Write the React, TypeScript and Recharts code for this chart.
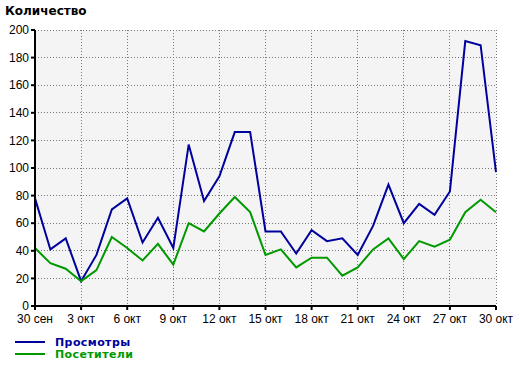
import React from "react";
import { LineChart, Line, XAxis, YAxis, CartesianGrid } from "recharts";

const days = [
  "30 сен", "1 окт", "2 окт", "3 окт", "4 окт", "5 окт", "6 окт", "7 окт", "8 окт", "9 окт",
  "10 окт", "11 окт", "12 окт", "13 окт", "14 окт", "15 окт", "16 окт", "17 окт", "18 окт", "19 окт",
  "20 окт", "21 окт", "22 окт", "23 окт", "24 окт", "25 окт", "26 окт", "27 окт", "28 окт", "29 окт", "30 окт",
];
const views = [78, 41, 49, 18, 37, 70, 78, 46, 64, 42, 117, 76, 94, 126, 126, 54, 54, 38, 55, 47, 49, 37, 58, 88, 60, 74, 66, 83, 192, 189, 97];
const visitors = [42, 31, 27, 18, 26, 50, 42, 33, 45, 30, 60, 54, 67, 79, 68, 37, 41, 28, 35, 35, 22, 28, 41, 49, 34, 47, 43, 48, 68, 77, 68];
const xTicks = ["30 сен", "3 окт", "6 окт", "9 окт", "12 окт", "15 окт", "18 окт", "21 окт", "24 окт", "27 окт", "30 окт"];
const yTicks = [0, 20, 40, 60, 80, 100, 120, 140, 160, 180, 200];

const data = days.map((d, i) => ({ day: d, views: views[i], visitors: visitors[i] }));

const BLUE = "#00009c";
const GREEN = "#009900";

export default function App() {
  return (
    <div style={{ position: "absolute", left: 0, top: 0, width: 520, height: 366, background: "#fff" }}>
      <div
        style={{
          position: "absolute", left: 5, top: 4, fontFamily: "DejaVu Sans", fontWeight: "bold",
          fontSize: 12, color: "#000", lineHeight: "14px",
        }}
      >
        Количество
      </div>
      <LineChart width={520} height={366} data={data} margin={{ top: 30, right: 24, bottom: 40, left: 0 }}>
        <CartesianGrid stroke="#777" strokeDasharray="1 2" fill="#f4f4f4" shapeRendering="crispEdges" />
        <XAxis
          dataKey="day"
          ticks={xTicks}
          interval={0}
          height={20}
          tickSize={4}
          tickMargin={4}
          stroke="#000"
          strokeWidth={2}
          tick={{ fill: "#000", fontFamily: "Liberation Sans", fontSize: 12 }}
        />
        <YAxis
          domain={[0, 200]}
          ticks={yTicks}
          width={35}
          tickSize={4}
          tickMargin={2}
          stroke="#000"
          strokeWidth={2}
          tick={{ fill: "#000", fontFamily: "Liberation Sans", fontSize: 12 }}
        />
        <Line type="linear" dataKey="views" stroke={BLUE} strokeWidth={2} dot={false} isAnimationActive={false} />
        <Line type="linear" dataKey="visitors" stroke={GREEN} strokeWidth={2} dot={false} isAnimationActive={false} />
      </LineChart>
      <svg style={{ position: "absolute", left: 0, top: 330 }} width={200} height={36}>
        <line x1={15} x2={45} y1={12} y2={12} stroke={BLUE} strokeWidth={2} />
        <line x1={15} x2={45} y1={24} y2={24} stroke={GREEN} strokeWidth={2} />
        <text x={55} y={16} fill={BLUE} fontFamily="DejaVu Sans" fontWeight="bold" fontSize={11} letterSpacing={0.4}>Просмотры</text>
        <text x={55} y={28} fill={GREEN} fontFamily="DejaVu Sans" fontWeight="bold" fontSize={11} letterSpacing={0.4}>Посетители</text>
      </svg>
    </div>
  );
}
